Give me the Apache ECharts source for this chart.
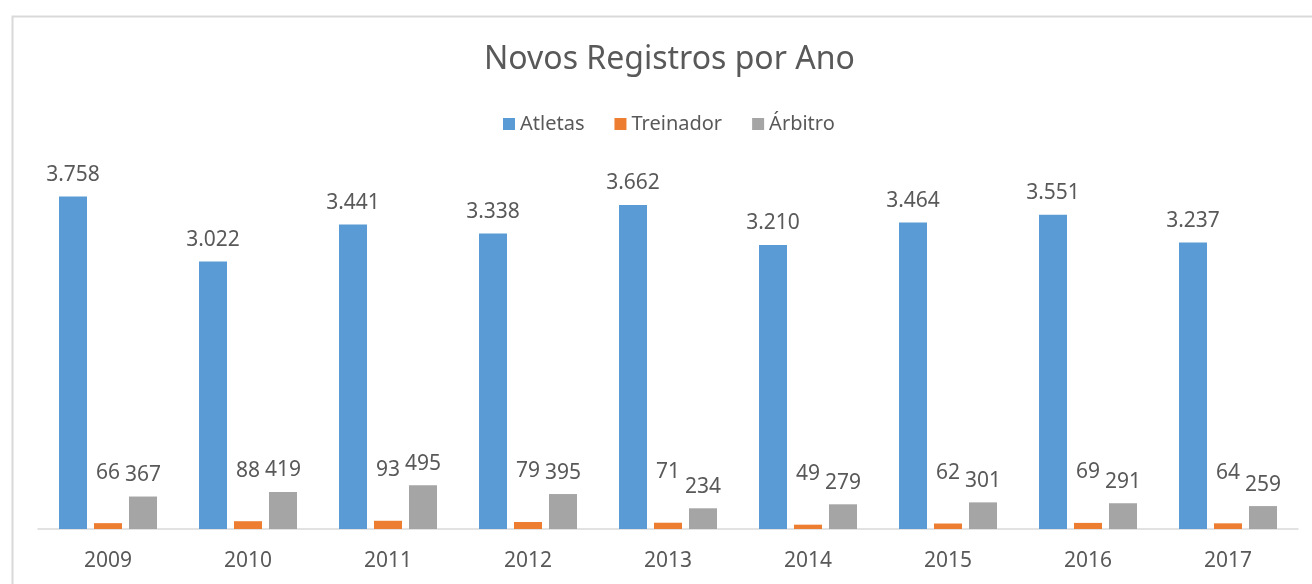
<!DOCTYPE html>
<html>
<head>
<meta charset="UTF-8">
<title>Novos Registros por Ano</title>
<script src="https://cdn.jsdelivr.net/npm/echarts@6/dist/echarts.min.js"></script>
<style>
  html, body { margin: 0; padding: 0; background: #fff; }
  #main { width: 1312px; height: 584px; }
</style>
</head>
<body>
<div id="main"></div>
<script>
  const years = ['2009', '2010', '2011', '2012', '2013', '2014', '2015', '2016', '2017'];
  const atletas = [3758, 3022, 3441, 3338, 3662, 3210, 3464, 3551, 3237];
  const treinador = [66, 88, 93, 79, 71, 49, 62, 69, 64];
  const arbitro = [367, 419, 495, 395, 234, 279, 301, 291, 259];

  const textColor = '#595959';
  const font = '"Noto Sans", "Open Sans", sans-serif';

  // pt-BR thousands separator
  const fmt = p => String(p.value).replace(/\B(?=(\d{3})+(?!\d))/g, '.');

  function barSeries(name, data, color, distance) {
    return {
      name: name,
      type: 'bar',
      data: data,
      barWidth: 28,
      barGap: '25%',
      itemStyle: { color: color },
      label: {
        show: true,
        position: 'top',
        distance: distance,
        formatter: fmt,
        color: textColor,
        fontFamily: font,
        fontSize: 21
      }
    };
  }

  const chart = echarts.init(document.getElementById('main'), null, { renderer: 'canvas' });
  chart.setOption({
    animation: false,
    backgroundColor: '#fff',
    textStyle: { fontFamily: font },
    graphic: [{
      type: 'rect',
      left: 10,
      top: 14,
      shape: { width: 1400, height: 700 },
      style: { fill: 'none', stroke: '#d9d9d9', lineWidth: 2 },
      silent: true
    }],
    title: {
      text: 'Novos Registros por Ano',
      left: 484,
      top: 44,
      padding: 0,
      textStyle: { color: textColor, fontSize: 32, fontWeight: 'normal', fontFamily: font }
    },
    legend: {
      top: 114,
      left: 503,
      padding: 0,
      itemWidth: 12,
      itemHeight: 12,
      itemGap: 30,
      icon: 'rect',
      textStyle: { color: textColor, fontSize: 20, fontFamily: font }
    },
    grid: { left: 38, right: 14, top: 175, bottom: 55 },
    xAxis: {
      type: 'category',
      data: years,
      axisLine: { lineStyle: { color: '#d9d9d9', width: 1.5 } },
      axisTick: { show: false },
      axisLabel: { color: textColor, fontSize: 21, margin: 22, fontFamily: font }
    },
    yAxis: {
      type: 'value',
      min: 0,
      max: 4000,
      show: false,
      splitLine: { show: false }
    },
    series: [
      barSeries('Atletas', atletas, '#5B9BD5', 11),
      barSeries('Treinador', treinador, '#ED7D31', 40),
      barSeries('Árbitro', arbitro, '#A5A5A5', 11)
    ]
  });
</script>
</body>
</html>
